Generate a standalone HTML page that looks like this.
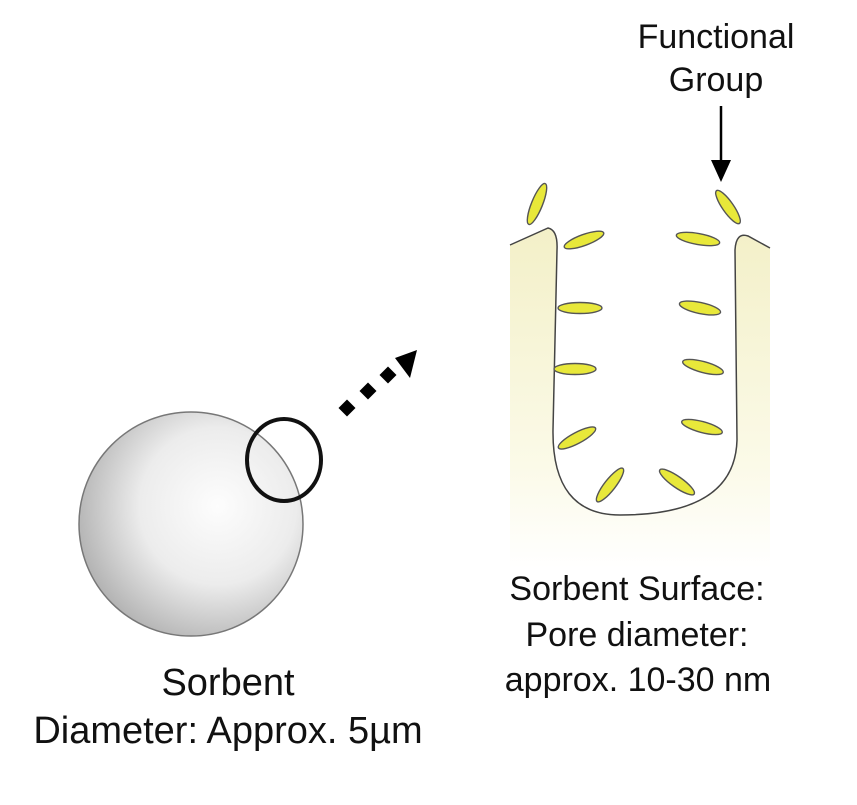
<!DOCTYPE html>
<html><head><style>
body{margin:0;background:#fff}
svg{display:block}
text{font-family:"Liberation Sans",sans-serif;fill:#111}
</style></head><body>
<svg width="857" height="805" viewBox="0 0 857 805">
<defs>
<radialGradient id="sp" cx="0.62" cy="0.42" r="0.7">
<stop offset="0" stop-color="#fdfdfd"/><stop offset="0.5" stop-color="#ececec"/><stop offset="1" stop-color="#a8a8a8"/>
</radialGradient>
<linearGradient id="wl" x1="0" y1="0" x2="0" y2="1">
<stop offset="0" stop-color="#f3f0c8"/><stop offset="0.7" stop-color="#fbfae8"/><stop offset="1" stop-color="#ffffff"/>
</linearGradient>
</defs>
<circle cx="191" cy="524" r="112" fill="url(#sp)" stroke="#777" stroke-width="1.5"/>
<ellipse cx="284" cy="460" rx="37" ry="41" fill="none" stroke="#111" stroke-width="4"/>
<g fill="#000">
<rect x="-6" y="-6" width="12" height="12" transform="translate(347,408) rotate(45)"/>
<rect x="-6" y="-6" width="12" height="12" transform="translate(368,391) rotate(45)"/>
<rect x="-6" y="-6" width="12" height="12" transform="translate(388,375) rotate(45)"/>
<polygon points="417,350 395,358 410,378"/>
</g>
<rect x="510" y="228" width="260" height="340" fill="url(#wl)"/>
<path d="M510,245 L548,228 Q558,230 557,250 L553,430 Q552,515 620,515 Q735,515 737,440 L735,250 Q736,232 748,236 L770,248 L770,225 L510,225 Z" fill="#fff"/>
<path d="M510,245 L548,228 Q558,230 557,250 L553,430 Q552,515 620,515 Q735,515 737,440 L735,250 Q736,232 748,236 L770,248" fill="none" stroke="#444" stroke-width="1.5"/>
<g fill="#e8e83a" stroke="#555" stroke-width="1.4">
<ellipse cx="537" cy="204" rx="22" ry="5.5" transform="rotate(-68 537 204)"/>
<ellipse cx="584" cy="240" rx="21" ry="5.5" transform="rotate(-20 584 240)"/>
<ellipse cx="580" cy="308" rx="22" ry="5.5"/>
<ellipse cx="575" cy="369" rx="21" ry="5.5"/>
<ellipse cx="577" cy="438" rx="21" ry="5.5" transform="rotate(-28 577 438)"/>
<ellipse cx="610" cy="485" rx="21" ry="5.5" transform="rotate(-52 610 485)"/>
<ellipse cx="677" cy="482" rx="21" ry="5.5" transform="rotate(35 677 482)"/>
<ellipse cx="702" cy="427" rx="21" ry="5.5" transform="rotate(15 702 427)"/>
<ellipse cx="703" cy="367" rx="21" ry="5.5" transform="rotate(15 703 367)"/>
<ellipse cx="700" cy="308" rx="21" ry="5.5" transform="rotate(12 700 308)"/>
<ellipse cx="698" cy="239" rx="22" ry="5.5" transform="rotate(10 698 239)"/>
<ellipse cx="728" cy="207" rx="20" ry="5.5" transform="rotate(55 728 207)"/>
</g>
<line x1="721" y1="106" x2="721" y2="162" stroke="#000" stroke-width="2.5"/>
<polygon points="711,160 731,160 721,182" fill="#000"/>
<g font-size="34" text-anchor="middle">
<text x="716" y="48">Functional</text>
<text x="716" y="91">Group</text>
<text x="637" y="600">Sorbent Surface:</text>
<text x="637" y="646">Pore diameter:</text>
<text x="638" y="691">approx. 10-30 nm</text>
</g>
<g font-size="38" text-anchor="middle">
<text x="228" y="695">Sorbent</text>
<text x="228" y="743">Diameter: Approx. 5µm</text>
</g>
</svg>
</body></html>
